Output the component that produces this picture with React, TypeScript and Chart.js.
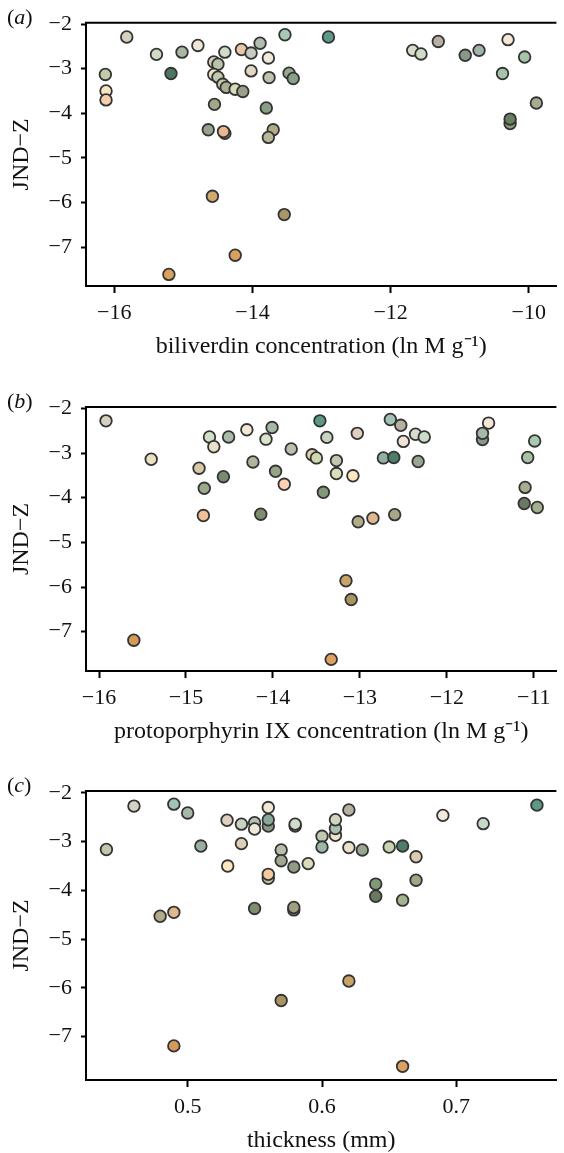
import React, { useEffect, useRef } from 'react';
import { Chart, registerables } from 'chart.js';
Chart.register(...registerables);

const FONT = "'Liberation Serif', 'Times New Roman', serif";

// Panel (a): biliverdin
const bilX = [-15.82, -16.13, -16.12, -16.12, -15.39, -15.02, -14.79, -15.18, -15.21, -14.58, -14.25, -14.55, -14.64, -14.40, -14.42, -14.56, -14.50, -14.40, -14.56, -14.50, -14.43, -14.38, -14.25, -14.14, -14.16, -14.02, -13.89, -14.02, -13.77, -13.76, -13.80, -13.70, -13.77, -13.53, -13.54, -13.47, -13.41, -12.90, -11.68, -11.56, -11.31, -10.92, -10.72, -10.30, -10.06, -10.38, -9.89, -10.27, -10.27];
const bilY = [-2.29, -3.13, -3.50, -3.70, -2.68, -2.63, -2.48, -3.11, -7.61, -5.86, -7.18, -3.80, -4.37, -4.45, -4.41, -2.85, -2.90, -2.63, -3.13, -3.19, -3.35, -3.42, -3.46, -3.51, -2.57, -2.65, -2.43, -3.05, -2.76, -3.20, -3.88, -4.37, -4.54, -2.24, -6.27, -3.10, -3.22, -2.29, -2.59, -2.67, -2.39, -2.70, -2.59, -2.35, -2.74, -3.11, -3.77, -4.23, -4.13];
const bilColors = ['#d5d0c0', '#c0cca8', '#f5e5c5', '#f5cfad', '#d0dcc5', '#a8b8a5', '#f0e6d5', '#4e7562', '#daa060', '#d0a870', '#daa060', '#a0a888', '#98a490', '#a8a888', '#eab890', '#d8d0b8', '#b8c4a8', '#cfdcc8', '#ede5c5', '#c0c8b0', '#c8c8a8', '#a8b098', '#d8dcb8', '#98a088', '#e8c8a8', '#c8ccc0', '#b0bcb0', '#e0d8c0', '#f0e8d8', '#bcc4b0', '#88a088', '#b0ac88', '#b8b898', '#a8c8b8', '#a89868', '#98a890', '#8aa088', '#5e9888', '#d8dcc8', '#d0dcc8', '#b8b0a0', '#889888', '#a0b4a8', '#f5e8d5', '#a8c4a8', '#a8c4a8', '#a8ac90', '#909c78', '#6a7e60'];
const bilTicks = [-16, -14, -12, -10];

// Panel (b): protoporphyrin IX
const ppX = [-15.92, -15.40, -15.60, -14.85, -14.79, -14.80, -14.73, -14.68, -14.57, -14.51, -14.30, -14.23, -14.14, -14.08, -14.01, -13.97, -13.87, -13.79, -13.46, -13.38, -13.55, -13.50, -13.42, -13.27, -13.27, -13.08, -13.03, -13.02, -12.85, -12.60, -13.16, -13.10, -13.33, -12.65, -12.53, -12.50, -12.36, -12.26, -12.73, -12.61, -12.33, -11.52, -11.59, -11.59, -10.99, -11.07, -11.10, -11.11, -10.96];
const ppY = [-2.28, -3.14, -7.19, -3.34, -3.79, -4.40, -2.64, -2.86, -3.53, -2.64, -2.48, -3.20, -4.37, -2.69, -2.43, -3.41, -3.70, -2.91, -2.28, -2.65, -3.04, -3.11, -3.88, -3.17, -3.46, -3.51, -2.56, -4.54, -4.46, -4.38, -5.86, -6.28, -7.62, -2.25, -2.38, -2.74, -2.58, -2.64, -3.11, -3.10, -3.19, -2.33, -2.70, -2.56, -2.73, -3.10, -3.77, -4.13, -4.22];
const ppColors = ['#d5d0c0', '#e8e0c0', '#d49a5a', '#d8c8a8', '#9ca88a', '#f0c098', '#d0e0c8', '#e8e0c8', '#7a8a70', '#a8bca8', '#f2e8d4', '#b0b49c', '#808c70', '#d8e4cc', '#a8b8a8', '#98a488', '#fcd0b0', '#b8c0ac', '#5e9888', '#c8d4c0', '#dcd0b0', '#d0d8b0', '#809a78', '#c0c8b0', '#d8e0b8', '#fde8c0', '#e0d0c0', '#b0ac88', '#e0b890', '#a8a888', '#c8a468', '#a89460', '#dca060', '#a0c4b4', '#b8b0a0', '#f0e4d4', '#d8dccc', '#cddcc8', '#90b0a0', '#4e7e68', '#98a890', '#f4e6d4', '#889888', '#a8b8a8', '#a8c8b0', '#a8c0a4', '#a8ac90', '#6a7a60', '#a0b090'];
const ppTicks = [-16, -15, -14, -13, -12, -11];

// Panel (c): thickness
const thX = [0.4395, 0.46, 0.4897, 0.5, 0.5098, 0.4795, 0.4897, 0.4897, 0.5293, 0.5298, 0.54, 0.54, 0.5498, 0.5498, 0.5498, 0.56, 0.56, 0.56, 0.56, 0.56, 0.5696, 0.5696, 0.5696, 0.58, 0.58, 0.579, 0.579, 0.579, 0.5897, 0.6, 0.6, 0.61, 0.61, 0.61, 0.62, 0.62, 0.62, 0.63, 0.65, 0.66, 0.67, 0.67, 0.66, 0.64, 0.64, 0.66, 0.69, 0.72, 0.76];
const thY = [-3.16, -2.27, -2.23, -2.41, -3.09, -4.53, -4.45, -7.19, -2.56, -3.50, -2.64, -3.04, -2.61, -2.74, -4.37, -2.30, -2.68, -2.55, -3.75, -3.67, -3.17, -3.39, -6.26, -2.68, -2.64, -3.52, -4.40, -4.35, -3.45, -2.89, -3.11, -2.87, -2.73, -2.55, -2.35, -3.12, -5.86, -3.17, -3.11, -3.09, -3.31, -3.79, -4.20, -4.12, -3.87, -7.61, -2.46, -2.63, -2.25];
const thColors = ['#c0c8ac', '#d5d0c0', '#a0c4b4', '#a8b8a8', '#98b0a0', '#b0ac88', '#e0b890', '#d49a5a', '#e0d0c0', '#fde8c0', '#c8d4c0', '#dcd0b8', '#b0c4b0', '#f0e8d8', '#808c70', '#f2e6d4', '#8a9a88', '#88a898', '#c0c8ac', '#f6c8a0', '#b8bca8', '#a0a890', '#a89460', '#a0b098', '#d0dcc8', '#909c88', '#808c70', '#a0a080', '#d8dcb8', '#c0c8b0', '#98b8a4', '#f0e4c8', '#a8c0b0', '#d0d4c0', '#b8b0a0', '#e8e0c8', '#c8a468', '#98a890', '#c8d4b0', '#4e7e68', '#dccdb0', '#9ca88a', '#a0b490', '#6a7a60', '#809a78', '#dca060', '#f4eadc', '#c8d8c8', '#5e9888'];
const thTicks = [0.5, 0.6, 0.7];

const jndTicks = [-7, -6, -5, -4, -3, -2];

function fmt(v: number): string {
  return v < 0 ? '\u2212' + String(Math.abs(v)) : String(v);
}

const topFrame = {
  id: 'topFrame',
  beforeDatasetsDraw(chart: any) {
    const { ctx, chartArea } = chart;
    ctx.save();
    ctx.strokeStyle = '#000';
    ctx.lineWidth = 2;
    ctx.beginPath();
    ctx.moveTo(chartArea.left - 1, chartArea.top);
    ctx.lineTo(chartArea.right, chartArea.top);
    ctx.stroke();
    ctx.restore();
  },
};

type PanelProps = {
  label: string;
  xs: number[];
  ys: number[];
  colors: string[];
  xTicks: number[];
  xMin: number;
  xMax: number;
  yMin: number;
  yMax: number;
  xTitle: string;
  top: number;
  height: number;
  areaTop: number;
  areaBottom: number;
};

function Panel(p: PanelProps) {
  const ref = useRef<HTMLCanvasElement | null>(null);
  useEffect(() => {
    if (!ref.current) return;
    const points = p.xs.map((x, i) => ({ x, y: p.ys[i] }));
    const xAxisHeight = p.top + p.height - p.areaBottom;
    const chart = new Chart(ref.current, {
      type: 'scatter',
      data: {
        datasets: [
          {
            data: points,
            pointRadius: 5.8,
            pointBorderWidth: 1.8,
            pointBorderColor: '#333333',
            pointBackgroundColor: p.colors,
            clip: false,
          } as any,
        ],
      },
      options: {
        animation: false,
        responsive: false,
        events: [],
        layout: { padding: { top: p.areaTop - p.top, left: 0, right: 0, bottom: 0 } },
        plugins: { legend: { display: false }, tooltip: { enabled: false } },
        scales: {
          x: {
            type: 'linear',
            position: 'bottom',
            min: p.xMin,
            max: p.xMax,
            afterBuildTicks: (axis: any) => {
              axis.ticks = p.xTicks.map((v) => ({ value: v }));
            },
            afterFit: (axis: any) => {
              axis.height = xAxisHeight;
            },
            border: { display: true, color: '#000', width: 2 },
            grid: { display: true, drawOnChartArea: false, drawTicks: true, tickLength: 7, tickWidth: 2, tickColor: '#000' },
            ticks: {
              color: '#111',
              padding: 7,
              maxRotation: 0,
              autoSkip: false,
              font: { family: FONT, size: 22 },
              callback: (v: any) => fmt(Number(v)),
            },
            title: {
              display: true,
              text: p.xTitle,
              color: '#111',
              font: { family: FONT, size: 24 },
              padding: { top: 0, bottom: 4 },
            },
          },
          y: {
            type: 'linear',
            min: p.yMin,
            max: p.yMax,
            afterBuildTicks: (axis: any) => {
              axis.ticks = jndTicks.map((v) => ({ value: v }));
            },
            afterFit: (axis: any) => {
              axis.width = 86;
            },
            border: { display: true, color: '#000', width: 2 },
            grid: { display: true, drawOnChartArea: false, drawTicks: true, tickLength: 5, tickWidth: 2, tickColor: '#000' },
            ticks: {
              color: '#111',
              padding: 9,
              autoSkip: false,
              font: { family: FONT, size: 22 },
              callback: (v: any) => fmt(Number(v)),
            },
            title: {
              display: true,
              text: 'JND\u2212Z',
              color: '#111',
              font: { family: FONT, size: 24 },
              padding: { top: 7.5, bottom: 0 },
            },
          },
        },
      },
      plugins: [topFrame],
    });
    return () => chart.destroy();
  }, []);
  return (
    <>
      <canvas
        ref={ref}
        width={564}
        height={p.height}
        style={{ position: 'absolute', left: 0, top: p.top, width: 564, height: p.height }}
      />
      <div
        style={{
          position: 'absolute',
          left: 7,
          top: p.areaTop - 17,
          fontFamily: FONT,
          fontSize: 22,
          lineHeight: '22px',
          color: '#111',
        }}
      >
        (<i>{p.label}</i>)
      </div>
    </>
  );
}

export default function App() {
  return (
    <div style={{ position: 'absolute', left: 0, top: 0, width: 564, height: 1153, overflow: 'hidden', background: '#fff' }}>
      <Panel
        label="a"
        xs={bilX}
        ys={bilY}
        colors={bilColors}
        xTicks={bilTicks}
        xMin={-16.41}
        xMax={-9.6}
        yMin={-7.87}
        yMax={-1.97}
        xTitle={'biliverdin concentration (ln M g\u207B\u00B9)'}
        top={0}
        height={365}
        areaTop={22.7}
        areaBottom={286}
      />
      <Panel
        label="b"
        xs={ppX}
        ys={ppY}
        colors={ppColors}
        xTicks={ppTicks}
        xMin={-16.15}
        xMax={-10.74}
        yMin={-7.88}
        yMax={-1.97}
        xTitle={'protoporphyrin IX concentration (ln M g\u207B\u00B9)'}
        top={365}
        height={385}
        areaTop={407}
        areaBottom={671}
      />
      <Panel
        label="c"
        xs={thX}
        ys={thY}
        colors={thColors}
        xTicks={thTicks}
        xMin={0.4243}
        xMax={0.7745}
        yMin={-7.89}
        yMax={-1.96}
        xTitle={'thickness (mm)'}
        top={750}
        height={409}
        areaTop={791}
        areaBottom={1080}
      />
    </div>
  );
}
